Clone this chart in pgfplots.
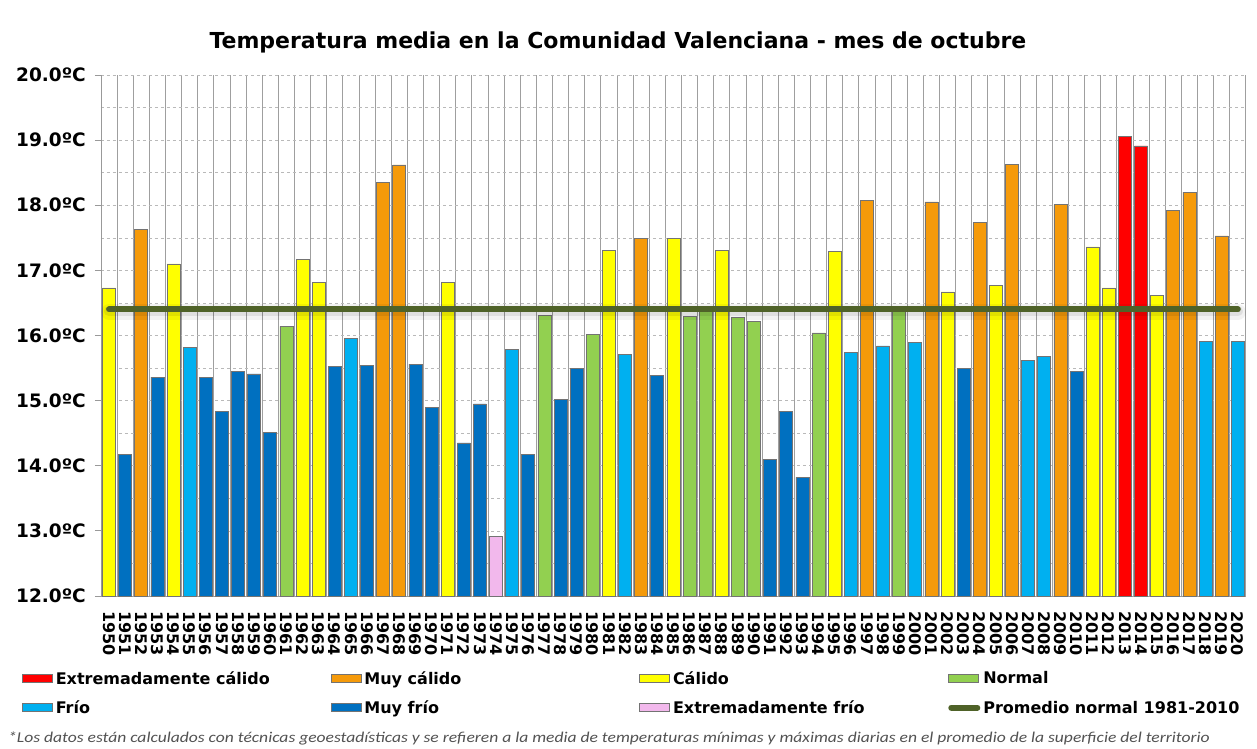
\documentclass[border=0pt]{standalone}
\usepackage{fontspec}
\setmainfont{DejaVu Sans}
\newfontfamily\calib{Carlito}
\usepackage{graphicx}
\usepackage{pgfplots}
\pgfplotsset{compat=1.18}
\definecolor{cRed}{HTML}{FF0000}
\definecolor{cOrange}{HTML}{F59A0A}
\definecolor{cYellow}{HTML}{FFFF00}
\definecolor{cGreen}{HTML}{92D050}
\definecolor{cLBlue}{HTML}{00B0F0}
\definecolor{cDBlue}{HTML}{0070C0}
\definecolor{cPink}{HTML}{F2B8EC}
\definecolor{cLine}{HTML}{4F6228}
\pgfplotsset{
  mybar/.style={ybar, bar width=13pt, bar shift=0pt, fill=#1, draw=black!55, line width=0.7pt,
    legend image code/.code={\draw[##1, line width=0.6pt] (0pt,-4pt) rectangle (30pt,4pt);}},
}
\newcommand{\lgt}[1]{\makebox[275pt][l]{#1}}
\begin{document}
\begin{tikzpicture}
\useasboundingbox (-101pt,-152pt) rectangle (1156pt,596pt);
\fill[white] (-101pt,-152pt) rectangle (1156pt,596pt);
\begin{axis}[
  at={(0pt,0pt)}, anchor=south west,
  width=1145pt, height=521pt, scale only axis,
  xmin=1949.5, xmax=2020.5, ymin=12, ymax=20,
  axis x line*=bottom, axis y line*=left,
  axis line style={gray!80, line width=0.8pt},
  tick align=outside,
  xtick={1950,...,2020},
  minor xtick={1949.5,1950.5,...,2020.5},
  xtick style={draw=none},
  minor tick length=6pt,
  minor x tick style={gray!80, line width=0.8pt},
  xminorgrids,
  minor x grid style={gray!75, line width=0.8pt},
  ytick={12,...,20},
  minor ytick={12.5,13.5,...,19.5},
  major tick length=6pt,
  ytick style={gray!80, line width=0.8pt},
  minor y tick style={draw=none},
  ymajorgrids, yminorgrids,
  major y grid style={dashed, gray!55, line width=0.6pt},
  minor y grid style={dashed, gray!55, line width=0.6pt},
  /pgf/number format/assume math mode=true,
  /pgf/number format/1000 sep={},
  xticklabel={\pgfmathprintnumber[fixed,precision=0]{\tick}},
  yticklabel={\pgfmathprintnumber[fixed,fixed zerofill,precision=1]{\tick}ºC},
  xticklabel style={yshift=-9pt, rotate=-90, anchor=west, inner sep=0pt, font=\bfseries\fontsize{16}{18}\selectfont},
  yticklabel style={inner sep=0pt, xshift=-9pt, font=\bfseries\fontsize{18.5}{22}\selectfont},
  clip=false,
  legend columns=4,
  legend cell align=left,
  legend style={at={(-0.069,-0.144)}, anchor=north west, draw=none, fill=none,
    font=\bfseries\fontsize{16}{19}\selectfont, inner sep=0pt,
    nodes={inner sep=0pt},
    row sep=15pt,
    /tikz/every odd column/.append style={column sep=3pt}},
]
\addplot[mybar=cRed] coordinates {(2013,19.06) (2014,18.91)};
\addlegendentry{\lgt{Extremadamente cálido}}
\addplot[mybar=cOrange] coordinates {(1952,17.63) (1967,18.35) (1968,18.62) (1983,17.49) (1997,18.08) (2001,18.05) (2004,17.73) (2006,18.63) (2009,18.01) (2016,17.92) (2017,18.20) (2019,17.53)};
\addlegendentry{\lgt{Muy cálido}}
\addplot[mybar=cYellow] coordinates {(1950,16.73) (1954,17.10) (1962,17.17) (1963,16.81) (1971,16.81) (1981,17.31) (1985,17.49) (1988,17.30) (1995,17.29) (2002,16.67) (2005,16.77) (2011,17.36) (2012,16.73) (2015,16.61)};
\addlegendentry{\lgt{Cálido}}
\addplot[mybar=cGreen] coordinates {(1961,16.14) (1977,16.31) (1980,16.02) (1986,16.29) (1987,16.39) (1989,16.28) (1990,16.22) (1994,16.04) (1999,16.40)};
\addlegendentry{\lgt{Normal}}
\addplot[mybar=cLBlue] coordinates {(1955,15.82) (1965,15.95) (1975,15.78) (1982,15.71) (1996,15.74) (1998,15.84) (2000,15.89) (2007,15.62) (2008,15.68) (2018,15.91) (2020,15.91)};
\addlegendentry{\lgt{Frío}}
\addplot[mybar=cDBlue] coordinates {(1951,14.18) (1953,15.36) (1956,15.36) (1957,14.83) (1958,15.45) (1959,15.41) (1960,14.51) (1964,15.52) (1966,15.54) (1969,15.56) (1970,14.90) (1972,14.35) (1973,14.95) (1976,14.18) (1978,15.02) (1979,15.49) (1984,15.39) (1991,14.10) (1992,14.83) (1993,13.82) (2003,15.49) (2010,15.45)};
\addlegendentry{\lgt{Muy frío}}
\addplot[mybar=cPink] coordinates {(1974,12.91)};
\addlegendentry{\lgt{Extremadamente frío}}
\addplot[black, opacity=0.05, line width=16pt, line cap=round, forget plot] coordinates {(1950,16.36) (2020,16.36)};
\addplot[black, opacity=0.08, line width=10pt, line cap=round, forget plot] coordinates {(1950,16.37) (2020,16.37)};
\addplot[cLine, line width=6pt, line cap=round,
  legend image code/.code={\draw[cLine, line width=6pt, line cap=round] (3pt,0pt) -- (29pt,0pt);}] coordinates {(1950,16.40) (2020,16.40)};
\addlegendentry{Promedio normal 1981-2010}
\node[font=\bfseries\fontsize{22}{26}\selectfont] at (rel axis cs:0.4515,1.0633) {Temperatura media en la Comunidad Valenciana - mes de octubre};
\node[anchor=west, font=\calib\itshape\fontsize{15}{18}\selectfont, text=black!68, inner sep=0pt] at (rel axis cs:-0.0812,-0.2726) {\scalebox{1.17}[1]{*Los datos están calculados con técnicas geoestadísticas y se refieren a la media de temperaturas mínimas y máximas diarias en el promedio de la superficie del territorio}};
\end{axis}
\end{tikzpicture}
\end{document}
